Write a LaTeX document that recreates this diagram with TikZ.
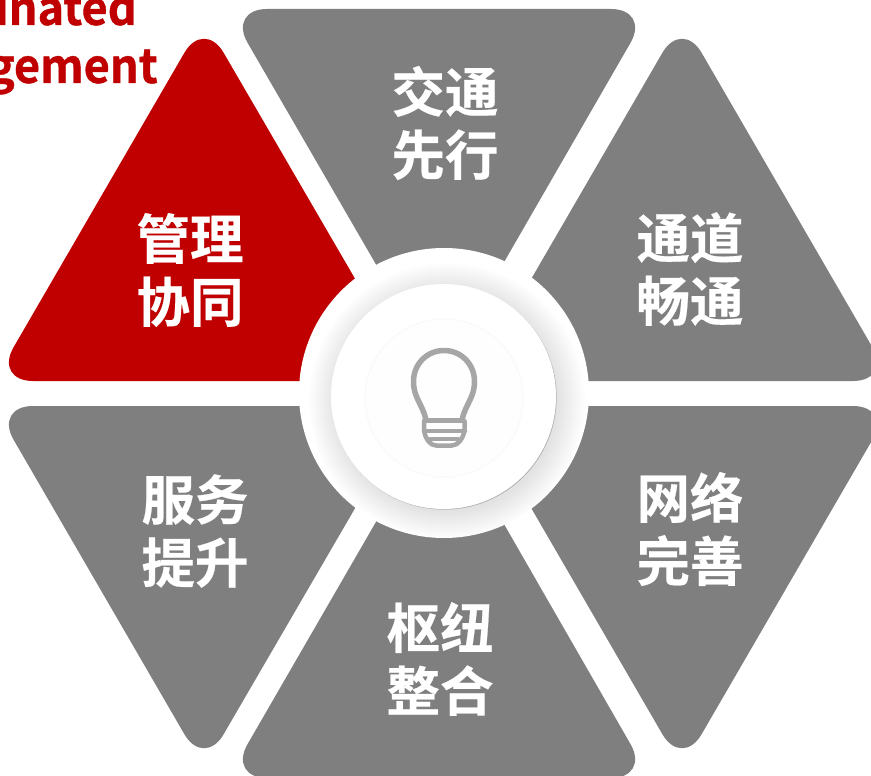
\documentclass[tikz,border=0pt]{standalone}
\usepackage{fontspec}
\setmainfont{Noto Sans CJK SC Bold}
\newfontfamily\cjkbold[FakeBold=0.4]{Noto Sans CJK SC Bold}
\newfontfamily\wordfont[FakeBold=0.8,FakeStretch=0.96]{Noto Sans CJK SC Bold}
\tikzset{
  px/.style={x=1pt,y=-1pt},
  tri/.style={fill=grayfill,rounded corners=39pt},
  redtri/.style={fill=redfill,rounded corners=39pt},
  cjklabel/.style={text=white,align=center,font=\cjkbold\fontsize{53.5}{63}\selectfont,inner sep=0pt},
  word/.style={text=redfill,anchor=base east,inner sep=0pt,font=\wordfont\fontsize{47}{50}\selectfont},
  bulb/.style={draw=bulbgray,line width=5.5pt,line join=round,line cap=round}
}
\definecolor{grayfill}{HTML}{7F7F7F}
\definecolor{redfill}{HTML}{C00000}
\definecolor{bulbgray}{HTML}{A6A6A6}
\begin{document}
\begin{tikzpicture}[px]
\useasboundingbox (0,0) rectangle (871,776);
\clip (0,0) rectangle (871,776);
\fill[white] (0,0) rectangle (871,776);
% triangles
\fill[redtri] (204,19) -- (414.5,381) -- (-6,381) -- cycle;
\fill[tri] (228,9) -- (650,9) -- (439.5,374) -- cycle;
\fill[tri] (682,19) -- (892,381) -- (472,381) -- cycle;
\fill[tri] (-6,406) -- (414.5,406) -- (204,768) -- cycle;
\fill[tri] (472,406) -- (892,406) -- (682,768) -- cycle;
\fill[tri] (228,778) -- (650,778) -- (439.5,412) -- cycle;
% hub
\fill[white] (444,393) circle[radius=145];
\begin{scope}
\clip (444,393) circle[radius=145];
\foreach \r in {112,114,...,138}{
  \fill[black,opacity=0.009] (447,401) circle[radius=\r];
}
\end{scope}
\fill[black!30] (444.2,397.2) circle[radius=112.5];
\fill[white] (443.5,396.5) circle[radius=112.5];
\draw[black!2,line width=1.5pt,fill=black!0.5] (444,398) circle[radius=79];
% bulb
\draw[bulb] (426,420) .. controls (423,405) and (413.5,398) .. (413.5,381.5)
  .. controls (413.5,364) and (427,350.5) .. (444,350.5)
  .. controls (461,350.5) and (474.5,364) .. (474.5,381.5)
  .. controls (474.5,398) and (465,405) .. (462,420);
\draw[bulb,line width=4.5pt] (425,420.5) -- (463,420.5);
\draw[bulb,line width=4.5pt] (424,431) -- (465,431);
\draw[bulb,line width=4.5pt,rounded corners=5pt] (424,421) -- (424,434) -- (431,445.5) -- (457,445.5) -- (464.5,434) -- (464.5,421);
\draw[bulb,line width=4pt] (430,439) -- (458,439);
% labels
\node[cjklabel] (guanli) at (190,270) {管理\\协同};
\node[cjklabel] (jiaotong) at (445,123) {交通\\先行};
\node[cjklabel] (tongdao) at (690,269) {通道\\畅通};
\node[cjklabel] (fuwu) at (195,531) {服务\\提升};
\node[cjklabel] (wangluo) at (690,529) {网络\\完善};
\node[cjklabel] (shuniu) at (440,659) {枢纽\\整合};
\node[word] (wordone) at (137,25) {inated};
\node[word] (wordtwo) at (158,83) {gement};
\end{tikzpicture}
\end{document}
